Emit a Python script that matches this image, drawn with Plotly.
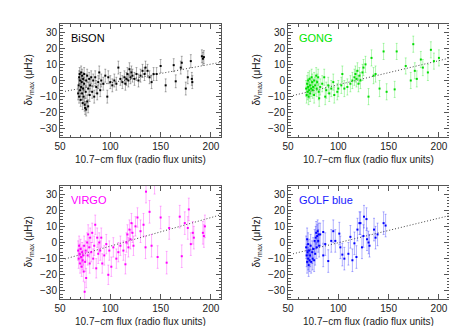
import plotly.graph_objects as go

# ---- data (x: 10.7-cm flux, y: shift in uHz) ----
bison_flux = [68, 68.5, 69, 69, 69.5, 70, 70, 70.5, 71, 71, 71.5, 72, 72, 72.5, 73, 73, 73.5,
              74, 74, 74.5, 75, 75.5, 76, 76, 77, 77, 78, 78, 79, 79.5, 80, 81, 82, 83, 84,
              85, 86, 87, 88, 89, 90, 91, 93, 95, 97, 98, 100, 102, 104, 106, 108, 110, 112,
              114, 115, 116, 117, 118, 119, 120, 121, 122, 124, 126, 128, 130, 132, 134, 135,
              137, 139, 141, 143, 146, 150, 155, 163, 165, 170, 171, 175, 177, 180, 181, 181.5,
              191, 192, 193]
bison_shift = [-8, -3, 2, -10, 4, -6, 0, -12, 5, -4, -1, 3, -8, -14, 1, -5, -10,
               4, -2, -15, -17, -7, -18, 0, -13, 3, -5, -16, 1, -9, -3, 2, -7, 0, -10,
               2, -4, -8, -1, 5, -6, 0, -2, 3, -10, 2, -1, -3, 0, -2, 8, 1, -1,
               2, -2, 1, 4, 0, 7, 2, 5, 3, 1, 4, 0, 3, 6, 4, 8,
               6, 2, -1, 4, 4, 9, -3, 9.5, -0.5, 8, 11, -5, 2, 12, 1, -1,
               15, 13.5, 14.5]
bison_err = [4] * len(bison_flux)

gong_flux = [68, 68.5, 69, 69.5, 70, 70, 70.5, 71, 71.5, 72, 72, 73, 73.5, 74, 74.5, 75, 76,
             76, 77, 78, 78.5, 79, 80, 80.5, 81, 82, 84, 86, 87, 88, 90, 91, 93, 95, 96, 99,
             100, 103, 104, 106, 109, 112, 114, 116, 117, 118, 119, 120, 121, 122, 124, 125,
             127, 130, 133, 135, 137, 141, 145, 148, 156, 158, 167, 172, 174.5, 176, 178,
             182, 184, 189, 192, 195, 200]
gong_shift = [-5, -9, -2, -7, 0, -4, -10, -6, 1, -3, -8, -5, 2, -1, -6, -4, 0,
              -9, -3, 3, -5, -1, 2, -7, -11, -4, -2, 2, -10, -6, -3, -8, -5, -1, -9, -7,
              -5, -3, 4, -5, -4, -2, 0, 2, 4, 1, 6, -2, 3, 0, 5, 8,
              10, -10, 14, 3, 4, -5, 18, -7, -5.5, 18, 9, 0, 22.5, 6, 1,
              13, 8, 5, 19, 12, 14]
gong_err = [5] * len(gong_flux)

virgo_flux = [68, 68.5, 69, 69.5, 70, 70.5, 71, 71.5, 72, 72.5, 73, 73.5, 74, 74.5, 75, 75.5,
              76, 77, 77.5, 78, 79, 79.5, 80, 81, 82, 83, 84, 85, 86, 87, 88, 89, 90, 91, 92,
              94, 96, 98, 99, 101, 103, 106, 108, 110, 113, 115, 116, 117, 118, 119, 120, 121,
              122, 123, 125, 127, 130, 133, 135, 135.5, 139, 141, 144, 147, 150, 156, 158.5,
              169, 171, 174, 177, 178, 180, 182, 183, 192, 193, 194]
virgo_shift = [-5, -10, -2, -7, -13, -4, -9, -15, -6, -11, -8, -18, -2, -30.5, -12, -5,
               -22, 0, -8, 5, -3, -13, 3, -6, 6, -10, -2, 11, -16, 3, -7, 0, -5, 3, -13,
               -8, -1, -20, -5, -15, -3, -10, -6, -2, -5, -13.5, 0, 5, -3, 8, 2, 12,
               6, -2, 10, 15.5, 7, 11, -3, 31.5, 19, -2, 37, -9, 15.5, -12.5, 9,
               16, -8.5, 12, 9, 20.5, -1, 6, 3, 6, 4, 10]
virgo_err = [6] * 56 + [7] * (len(virgo_flux) - 56)

golf_flux = [68, 68.5, 69, 69, 69.5, 70, 70, 70.5, 71, 71.5, 72, 72.5, 73, 74, 74.5, 75, 76,
             76.5, 77, 77.5, 78, 78.5, 79, 79.5, 80, 80.5, 81, 82, 85, 85, 87, 90, 93, 95,
             97, 101, 102, 104, 106, 110, 112, 114, 116, 118, 119, 121, 122, 123.5, 125,
             125.5, 128, 128.5, 130, 131, 135.5, 137, 139, 145, 147]
golf_shift = [-3, -8, -12, 2, -6, -10, -1, -14, -5, -11, -8, -2, -12, -6, -10, -4, -11,
              1, -7, 3, 6, -3, 4, 7, 1, 5, -2, 5, -8, 6.5, -1, -11.5, 1, 7,
              1, 5.5, -3, -7.5, -10, -7, 3.5, -11, -0.5, -9, 8, 12, 12, -3, 4,
              16, 14.5, 2, 0, -2, 8, 3, 5, 12, 10.5]
golf_err = [7] * len(golf_flux)

trend_flux = [55, 210]
bison_trend = [-6.7, 11.3]
gong_trend = [-9.3, 13.8]
virgo_trend = [-10.2, 17.2]
golf_trend = [-7.0, 16.6]

panels = [
    ("BiSON", bison_flux, bison_shift, bison_err, bison_trend,
     "#000000", "rgba(0,0,0,0.3)", "#000000"),
    ("GONG", gong_flux, gong_shift, gong_err, gong_trend,
     "#00dd00", "rgba(0,230,0,0.3)", "#00e600"),
    ("VIRGO", virgo_flux, virgo_shift, virgo_err, virgo_trend,
     "#ff00ff", "rgba(255,0,255,0.3)", "#ff00ff"),
    ("GOLF blue", golf_flux, golf_shift, golf_err, golf_trend,
     "#0000ff", "rgba(0,0,255,0.3)", "#1a1aff"),
]

W, H = 457, 326
# plot boxes in pixels: (left, top, right, bottom)
boxes = [(52, 16, 213, 129), (280, 16, 441, 129),
         (52, 178, 213, 291), (280, 178, 441, 291)]

FONT = "Liberation Sans, Arial, sans-serif"
fig = go.Figure()
annotations = []
layout_axes = {}

for i, (name, x, y, e, trend, col, ecol, lcol) in enumerate(panels):
    n = "" if i == 0 else str(i + 1)
    l, t, r, b = boxes[i]
    fig.add_trace(go.Scatter(
        x=trend_flux, y=trend, mode="lines",
        line=dict(color="#444444", width=1, dash="1px,2px"),
        xaxis="x" + n, yaxis="y" + n, showlegend=False, hoverinfo="skip"))
    fig.add_trace(go.Scatter(
        x=x, y=y, mode="markers",
        marker=dict(symbol="square", size=2, color=col, line=dict(width=0)),
        error_y=dict(type="data", array=e, color=ecol, thickness=1, width=1),
        xaxis="x" + n, yaxis="y" + n, showlegend=False))

    axis_common = dict(
        showline=True, linecolor="#555555", linewidth=1, mirror="allticks",
        ticks="inside", ticklen=5, tickcolor="#555555", tickwidth=1,
        showgrid=False, zeroline=False,
        tickfont=dict(family=FONT, size=10, color="#222222"),
    )
    layout_axes["xaxis" + n] = dict(
        axis_common, domain=[l / W, r / W], anchor="y" + n,
        range=[50, 210], tick0=50, dtick=50,
        minor=dict(ticks="inside", dtick=10, ticklen=2.5, tickcolor="#555555"))
    layout_axes["yaxis" + n] = dict(
        axis_common, domain=[1 - b / H, 1 - t / H], anchor="x" + n,
        range=[-35, 35], tick0=0, dtick=10,
        minor=dict(ticks="inside", dtick=2, ticklen=2.5, tickcolor="#555555"))

    annotations.append(dict(
        text=name, x=(l + 9) / W, y=1 - (t + 14) / H, xref="paper", yref="paper",
        xanchor="left", yanchor="middle", showarrow=False,
        font=dict(family=FONT, size=11, color=lcol)))
    annotations.append(dict(
        text="10.7\u2212cm flux (radio flux units)", x=(l + r) / 2 / W,
        y=1 - (b + 22) / H, xref="paper", yref="paper",
        xanchor="center", yanchor="middle", showarrow=False,
        font=dict(family=FONT, size=10, color="#222222")))
    annotations.append(dict(
        text="\u03b4\u03bd<sub>max</sub> (\u03bcHz)", x=(l - 31) / W,
        y=1 - (t + b) / 2 / H, xref="paper", yref="paper", textangle=-90,
        xanchor="center", yanchor="middle", showarrow=False,
        font=dict(family=FONT, size=10, color="#222222")))

fig.update_layout(
    width=W, height=H,
    margin=dict(l=0, r=0, t=0, b=0, autoexpand=False),
    paper_bgcolor="white", plot_bgcolor="white",
    annotations=annotations,
    **layout_axes,
)

fig.write_html("out.html")
